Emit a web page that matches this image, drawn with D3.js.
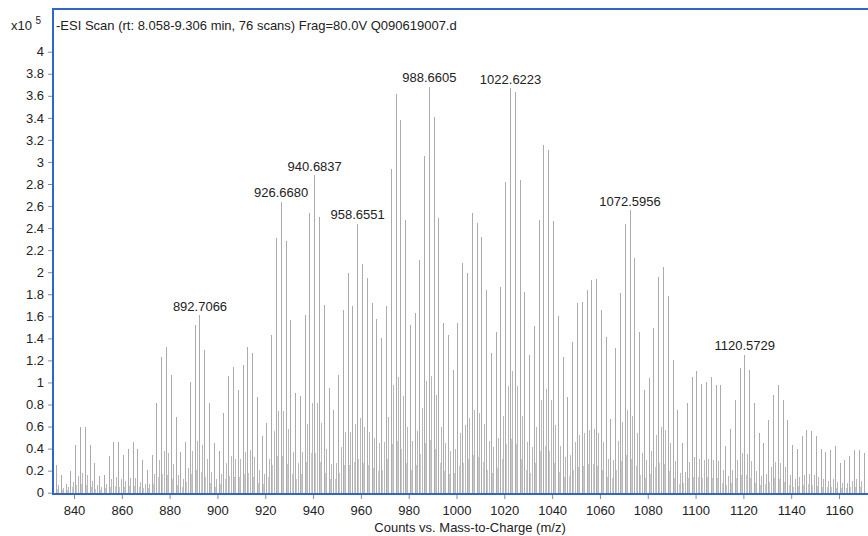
<!DOCTYPE html>
<html>
<head>
<meta charset="utf-8">
<script src="https://cdn.jsdelivr.net/npm/d3@7"></script>
<style>
  body { margin: 0; background: #fff; }
  svg text { font-family: "Liberation Sans", Arial, sans-serif; fill: #222; }
</style>
</head>
<body>
<svg id="chart" width="868" height="536"></svg>
<script>
// counts are in units of 10^5
var mainPeaks = [
  [832.7,0.25],[834.7,0.16],[836.7,0.08],[838.7,0.20],[840.7,0.43],[842.7,0.60],[844.7,0.60],[846.7,0.43],[848.7,0.27],[850.7,0.15],
  [852.7,0.16],[854.7,0.33],[856.7,0.46],[858.7,0.46],[860.7,0.34],[862.7,0.40],[864.7,0.46],[866.7,0.40],[868.7,0.30],[870.7,0.21],
  [872.7,0.34],[874.7,0.81],[876.7,1.23],[878.7,1.32],[880.7,1.07],[882.7,0.69],[884.7,0.37],[886.7,0.46],[888.7,1.00],[890.7,1.52],
  [892.7,1.61],[894.7,1.29],[896.7,0.81],[898.7,0.45],[900.7,0.38],[902.7,0.72],[904.7,1.06],[906.7,1.14],[908.7,0.93],[910.7,1.16],
  [912.7,1.32],[914.7,1.27],[916.7,0.87],[918.7,0.51],[920.7,0.63],[922.7,1.43],[924.7,2.31],[926.7,2.64],[928.7,2.28],[930.7,1.57],
  [932.7,0.90],[934.7,0.88],[936.7,1.61],[938.7,2.54],[940.7,2.88],[942.7,2.50],[944.7,1.70],[946.7,0.95],[948.7,0.75],[950.7,1.07],
  [952.7,1.66],[954.7,1.99],[956.7,1.69],[958.7,2.44],[960.7,2.07],[962.7,1.95],[964.7,1.72],[966.7,1.58],[968.7,1.40],[970.7,1.69],
  [972.7,2.94],[974.7,3.62],[976.7,3.38],[978.7,2.47],[980.7,1.52],[982.7,1.63],[984.6,2.11],[986.6,3.05],[988.7,3.68],[990.6,3.41],
  [992.6,2.49],[994.6,1.54],[996.6,1.43],[998.6,1.11],[1000.6,1.54],[1002.6,2.08],[1004.6,1.99],[1006.6,2.54],[1008.6,2.45],[1010.6,2.32],
  [1012.6,1.84],[1014.6,1.27],[1016.6,1.46],[1018.6,1.87],[1020.6,2.82],[1022.6,3.67],[1024.6,3.63],[1026.6,2.84],[1028.6,1.82],[1030.6,1.25],
  [1032.6,1.51],[1034.6,2.47],[1036.6,3.15],[1038.6,3.11],[1040.6,2.46],[1042.6,1.60],[1044.6,1.23],[1046.6,0.87],[1048.6,1.37],[1050.6,1.72],
  [1052.6,1.73],[1054.6,1.84],[1056.6,1.93],[1058.6,1.94],[1060.6,1.66],[1062.6,1.41],[1064.6,0.67],[1066.6,1.31],[1068.6,1.81],[1070.6,2.44],
  [1072.6,2.56],[1074.6,2.13],[1076.6,1.46],[1078.6,0.93],[1080.6,1.04],[1082.6,1.49],[1084.6,1.96],[1086.6,2.05],[1088.6,1.78],[1090.6,1.20],
  [1092.6,0.75],[1094.6,0.45],[1096.6,0.81],[1098.6,1.05],[1100.6,1.10],[1102.6,0.99],[1104.6,1.00],[1106.6,1.05],[1108.6,0.98],[1110.6,0.98],
  [1112.6,0.42],[1114.6,0.58],[1116.6,0.84],[1118.6,1.13],[1120.6,1.25],[1122.6,1.11],[1124.6,0.81],[1126.6,0.54],[1128.6,0.45],[1130.6,0.66],
  [1132.6,0.89],[1134.6,0.98],[1136.6,0.84],[1138.6,0.66],[1140.6,0.43],[1142.6,0.40],[1144.6,0.51],[1146.6,0.57],[1148.6,0.56],[1150.6,0.51],
  [1152.5,0.40],[1154.5,0.37],[1156.5,0.39],[1158.5,0.42],[1160.5,0.27],[1162.5,0.30],[1164.5,0.33],[1166.5,0.39],[1168.5,0.39],[1170.5,0.36]
];

// smaller peaks sitting between the main ones
var sidePeaks = [
  [833.7,0.07],[835.7,0.04],[837.7,0.05],[839.7,0.10],[841.7,0.15],[843.7,0.18],[845.7,0.16],[847.7,0.11],[849.7,0.07],[851.7,0.05],
  [853.7,0.08],[855.7,0.12],[857.7,0.14],[859.7,0.12],[861.7,0.11],[863.7,0.13],[865.7,0.13],[867.7,0.10],[869.7,0.08],[871.7,0.08],
  [873.7,0.17],[875.7,0.30],[877.7,0.38],[879.7,0.36],[881.7,0.26],[883.7,0.16],[885.7,0.12],[887.7,0.22],[889.7,0.38],[891.7,0.47],
  [893.7,0.43],[895.7,0.31],[897.7,0.19],[899.7,0.12],[901.7,0.17],[903.7,0.27],[905.7,0.33],[907.7,0.31],[909.7,0.31],[911.7,0.37],
  [913.7,0.39],[915.7,0.32],[917.7,0.21],[919.7,0.17],[921.7,0.31],[923.7,0.56],[925.7,0.74],[927.7,0.74],[929.7,0.58],[931.7,0.37],
  [933.7,0.27],[935.7,0.37],[937.7,0.62],[939.7,0.81],[941.7,0.81],[943.7,0.63],[945.7,0.40],[947.7,0.26],[949.7,0.27],[951.7,0.41],
  [953.7,0.55],[955.7,0.55],[957.7,0.62],[959.7,0.68],[961.7,0.60],[963.7,0.55],[965.7,0.50],[967.7,0.45],[969.7,0.46],[971.7,0.69],
  [973.7,0.98],[975.7,1.05],[977.7,0.88],[979.7,0.60],[981.7,0.47],[983.7,0.56],[985.6,0.77],[987.6,1.01],[989.6,1.06],[991.6,0.89],
  [993.6,0.60],[995.6,0.45],[997.6,0.38],[999.6,0.40],[1001.6,0.54],[1003.6,0.61],[1005.6,0.68],[1007.6,0.75],[1009.6,0.72],[1011.6,0.62],
  [1013.6,0.47],[1015.6,0.41],[1017.6,0.50],[1019.6,0.70],[1021.6,0.97],[1023.6,1.10],[1025.6,0.97],[1027.6,0.70],[1029.6,0.46],[1031.6,0.41],
  [1033.6,0.60],[1035.6,0.84],[1037.6,0.94],[1039.6,0.84],[1041.6,0.61],[1043.6,0.42],[1045.6,0.32],[1047.6,0.34],[1049.6,0.46],[1051.6,0.52],
  [1053.6,0.54],[1055.6,0.57],[1057.6,0.58],[1059.6,0.54],[1061.6,0.46],[1063.6,0.31],[1065.6,0.30],[1067.6,0.47],[1069.6,0.64],[1071.6,0.75],
  [1073.6,0.70],[1075.6,0.54],[1077.6,0.36],[1079.6,0.30],[1081.6,0.38],[1083.6,0.52],[1085.6,0.60],[1087.6,0.57],[1089.6,0.45],[1091.6,0.29],
  [1093.6,0.18],[1095.6,0.19],[1097.6,0.28],[1099.6,0.32],[1101.6,0.31],[1103.6,0.30],[1105.6,0.31],[1107.6,0.30],[1109.6,0.29],[1111.6,0.21],
  [1113.6,0.15],[1115.6,0.21],[1117.6,0.30],[1119.6,0.36],[1121.6,0.35],[1123.6,0.29],[1125.6,0.20],[1127.6,0.15],[1129.6,0.17],[1131.6,0.23],
  [1133.6,0.28],[1135.6,0.27],[1137.6,0.23],[1139.6,0.16],[1141.6,0.12],[1143.6,0.14],[1145.6,0.16],[1147.6,0.17],[1149.6,0.16],[1151.5,0.14],
  [1153.5,0.12],[1155.5,0.11],[1157.5,0.12],[1159.5,0.10],[1161.5,0.09],[1163.5,0.09],[1165.5,0.11],[1167.5,0.12],[1169.5,0.11]
];

// faint low peaks that make the grey floor of the spectrum
var lowPeaks = [
  [833.2,0.03],[835.2,0.02],[837.2,0.02],[839.2,0.05],[841.2,0.07],[843.2,0.08],[845.2,0.07],[847.2,0.05],[849.2,0.03],[851.2,0.02],
  [853.2,0.04],[855.2,0.05],[857.2,0.06],[859.2,0.05],[861.2,0.05],[863.2,0.06],[865.2,0.06],[867.2,0.05],[869.2,0.04],[871.2,0.04],
  [873.2,0.08],[875.2,0.14],[877.2,0.17],[879.2,0.16],[881.2,0.12],[883.2,0.07],[885.2,0.05],[887.2,0.10],[889.2,0.17],[891.2,0.21],
  [893.2,0.19],[895.2,0.14],[897.2,0.09],[899.2,0.05],[901.2,0.08],[903.2,0.12],[905.2,0.15],[907.2,0.14],[909.2,0.14],[911.2,0.17],
  [913.2,0.18],[915.2,0.14],[917.2,0.09],[919.2,0.08],[921.2,0.14],[923.2,0.25],[925.2,0.33],[927.2,0.33],[929.2,0.26],[931.2,0.17],
  [933.2,0.12],[935.2,0.17],[937.2,0.28],[939.2,0.36],[941.2,0.36],[943.2,0.28],[945.2,0.18],[947.2,0.12],[949.2,0.12],[951.2,0.18],
  [953.2,0.25],[955.2,0.25],[957.2,0.28],[959.2,0.31],[961.2,0.27],[963.2,0.25],[965.2,0.22],[967.2,0.20],[969.2,0.21],[971.2,0.31],
  [973.2,0.44],[975.2,0.47],[977.2,0.40],[979.2,0.27],[981.2,0.21],[983.2,0.25],[985.1,0.35],[987.1,0.45],[989.1,0.48],[991.1,0.40],
  [993.1,0.27],[995.1,0.20],[997.1,0.17],[999.1,0.18],[1001.1,0.24],[1003.1,0.27],[1005.1,0.31],[1007.1,0.34],[1009.1,0.32],[1011.1,0.28],
  [1013.1,0.21],[1015.1,0.18],[1017.1,0.22],[1019.1,0.31],[1021.1,0.44],[1023.1,0.49],[1025.1,0.44],[1027.1,0.31],[1029.1,0.21],[1031.1,0.18],
  [1033.1,0.27],[1035.1,0.38],[1037.1,0.42],[1039.1,0.38],[1041.1,0.27],[1043.1,0.19],[1045.1,0.14],[1047.1,0.15],[1049.1,0.21],[1051.1,0.23],
  [1053.1,0.24],[1055.1,0.26],[1057.1,0.26],[1059.1,0.24],[1061.1,0.21],[1063.1,0.14],[1065.1,0.13],[1067.1,0.21],[1069.1,0.29],[1071.1,0.34],
  [1073.1,0.31],[1075.1,0.24],[1077.1,0.16],[1079.1,0.13],[1081.1,0.17],[1083.1,0.23],[1085.1,0.27],[1087.1,0.26],[1089.1,0.20],[1091.1,0.13],
  [1093.1,0.08],[1095.1,0.09],[1097.1,0.13],[1099.1,0.14],[1101.1,0.14],[1103.1,0.13],[1105.1,0.14],[1107.1,0.13],[1109.1,0.13],[1111.1,0.09],
  [1113.1,0.07],[1115.1,0.09],[1117.1,0.13],[1119.1,0.16],[1121.1,0.16],[1123.1,0.13],[1125.1,0.09],[1127.1,0.07],[1129.1,0.08],[1131.1,0.10],
  [1133.1,0.13],[1135.1,0.12],[1137.1,0.10],[1139.1,0.07],[1141.1,0.05],[1143.1,0.06],[1145.1,0.07],[1147.1,0.08],[1149.1,0.07],[1151.1,0.06],
  [1153.0,0.05],[1155.0,0.05],[1157.0,0.05],[1159.0,0.04],[1161.0,0.04],[1163.0,0.04],[1165.0,0.05],[1167.0,0.05],[1169.0,0.05]
];

var labelMz = [892.7066, 926.6680, 940.6837, 958.6551, 988.6605, 1022.6223, 1072.5956, 1120.5729];

var xTicks = [840, 860, 880, 900, 920, 940, 960, 980, 1000, 1020, 1040, 1060, 1080, 1100, 1120, 1140, 1160];
var yTicks = [0, 0.2, 0.4, 0.6, 0.8, 1, 1.2, 1.4, 1.6, 1.8, 2, 2.2, 2.4, 2.6, 2.8, 3, 3.2, 3.4, 3.6, 3.8, 4];

var titleText = "-ESI Scan (rt: 8.058-9.306 min, 76 scans) Frag=80.0V Q090619007.d";
var xTitle = "Counts vs. Mass-to-Charge (m/z)";

// plot box (window.top is reserved, so other names)
var boxL = 53, boxT = 9, boxR = 870, boxB = 494;

var svg = d3.select("#chart");

var x = d3.scaleLinear()
    .domain([840, 1160])
    .range([74, 839]);

var y = d3.scaleLinear()
    .domain([0, 4])
    .range([492.7, 51.7]);

svg.append("clipPath").attr("id", "plot")
  .append("rect")
    .attr("x", boxL)
    .attr("y", boxT)
    .attr("width", boxR - boxL)
    .attr("height", boxB - boxT);

var bars = svg.append("g").attr("clip-path", "url(#plot)");

function drawPeaks(cls, data, colour) {
  bars.selectAll("line." + cls)
      .data(data)
    .enter().append("line")
      .attr("class", cls)
      .attr("x1", function(d) { return x(d[0]); })
      .attr("x2", function(d) { return x(d[0]); })
      .attr("y1", y(0))
      .attr("y2", function(d) { return y(d[1]); })
      .attr("stroke", colour)
      .attr("stroke-width", 1)
      .attr("shape-rendering", "crispEdges");
}

drawPeaks("low", lowPeaks, "#cacaca");
drawPeaks("side", sidePeaks, "#b8b8b8");
drawPeaks("main", mainPeaks, "#ababab");

// peak labels sit just above the nearest main peak
bars.selectAll("text.peak")
    .data(labelMz)
  .enter().append("text")
    .attr("class", "peak")
    .attr("text-anchor", "middle")
    .attr("font-size", 13)
    .attr("x", function(d) { return x(d); })
    .attr("y", function(d) {
      var p = d3.least(mainPeaks, function(q) { return Math.abs(q[0] - d); });
      return y(p[1]) - 4.5;
    })
    .text(function(d) { return d.toFixed(4); });

// axes
var yAxis = svg.append("g")
    .attr("transform", "translate(" + (boxL - 1) + ",0)")
    .call(d3.axisLeft(y).tickValues(yTicks).tickSize(4).tickPadding(4)
      .tickFormat(function(d) { return String(+d.toFixed(1)); }));
yAxis.select(".domain").remove();
yAxis.selectAll("line").attr("stroke", "#8a8a8a");
yAxis.selectAll("text").attr("font-size", 13).attr("fill", "#222")
    .attr("font-family", "Liberation Sans, Arial, sans-serif");

var xAxis = svg.append("g")
    .attr("transform", "translate(0," + (boxB + 1) + ")")
    .call(d3.axisBottom(x).tickValues(xTicks).tickSize(4).tickPadding(7)
      .tickFormat(d3.format("d")));
xAxis.select(".domain").remove();
xAxis.selectAll("line").attr("stroke", "#8a8a8a");
xAxis.selectAll("text").attr("font-size", 13).attr("fill", "#222")
    .attr("font-family", "Liberation Sans, Arial, sans-serif");

// blue frame, the right edge runs off the picture
svg.append("path")
    .attr("d", "M" + boxR + "," + boxT + "H" + boxL + "V" + boxB + "H" + boxR)
    .attr("fill", "none")
    .attr("stroke", "#2f66cc")
    .attr("stroke-width", 2);

svg.append("text")
    .attr("x", 56)
    .attr("y", 30)
    .attr("font-size", 13)
    .text(titleText);

var mult = svg.append("text")
    .attr("x", 11)
    .attr("y", 30)
    .attr("font-size", 13);
mult.append("tspan").text("x10 ");
mult.append("tspan").attr("font-size", 10).attr("dy", -6).text("5");

svg.append("text")
    .attr("x", 470)
    .attr("y", 532)
    .attr("text-anchor", "middle")
    .attr("font-size", 13)
    .text(xTitle);
</script>
</body>
</html>
